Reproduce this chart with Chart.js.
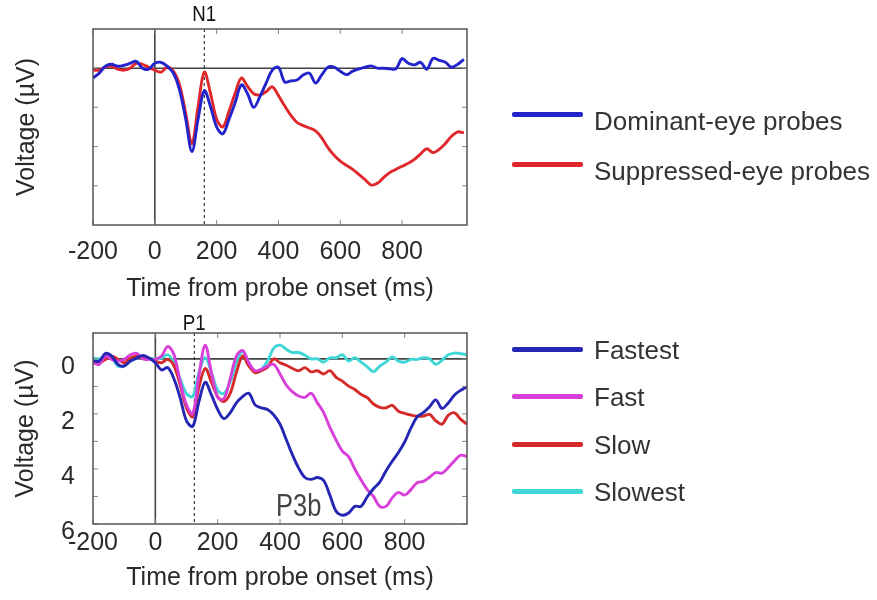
<!DOCTYPE html>
<html>
<head>
<meta charset="utf-8">
<title>ERP to probes</title>
<script src="https://cdn.jsdelivr.net/npm/chart.js@4.4.1/dist/chart.umd.min.js"></script>
<style>
  html, body { margin: 0; padding: 0; background: #fff; }
  #page { position: relative; width: 877px; height: 600px; overflow: hidden; }
  #page canvas { position: absolute; left: 0; }
  #topChart { top: 0; }
  #bottomChart { top: 300px; }
  .legend { position: absolute; left: 512px; margin: 0; padding: 0; list-style: none;
            font-family: 'Liberation Sans', Arial, sans-serif; font-size: 26px; color: #333; }
  .legend li { display: flex; align-items: center; white-space: nowrap; }
  .legend .swatch { display: inline-block; width: 71px; height: 5px; border-radius: 2px; }
  .legend .txt { margin-left: 11px; position: relative; }
  #topLegend { top: 89px; }
  #topLegend li { height: 50px; }
  #topLegend .txt { top: 7px; }
  #bottomLegend { top: 326px; }
  #bottomLegend li { height: 47.3px; }
  #bottomLegend .txt { top: 1px; }
</style>
</head>
<body>
<div id="page">
  <canvas id="topChart" width="877" height="310"></canvas>
  <canvas id="bottomChart" width="877" height="300"></canvas>
  <ul id="topLegend" class="legend"></ul>
  <ul id="bottomLegend" class="legend"></ul>
</div>
<script>
// time from probe onset (ms), one sample every 20 ms
const times = [-200, -180, -160, -140, -120, -100, -80, -60, -40, -20,
  0, 20, 40, 60, 80, 100, 120, 140, 160, 180,
  200, 220, 240, 260, 280, 300, 320, 340, 360, 380,
  400, 420, 440, 460, 480, 500, 520, 540, 560, 580,
  600, 620, 640, 660, 680, 700, 720, 740, 760, 780,
  800, 820, 840, 860, 880, 900, 920, 940, 960, 980, 1000];

// top panel (µV, positive is drawn downward)
const dominantEye = [0.5, 0.25, -0.1, -0.2, -0.1, -0.15, -0.25, -0.35, 0.0, 0.05,
  -0.25, -0.3, -0.1, 0.25, 1.1, 2.6, 4.25, 2.6, 1.15, 1.95,
  3.0, 3.35, 2.6, 1.75, 0.85, 1.3, 2.0, 1.45, 0.76, 0.1,
  -0.05, 0.7, 0.65, 0.6, 0.35, 0.25, 0.76, 0.34, -0.05, -0.05,
  0.15, 0.33, 0.15, 0.03, -0.05, -0.12, 0.0, 0.0, 0.03, 0.03,
  -0.49, -0.25, -0.17, -0.3, 0.05, -0.5, -0.4, -0.3, -0.05, -0.2, -0.45];
const suppressedEye = [0.1, 0.1, -0.05, -0.1, 0.05, 0.1, 0.0, -0.25, -0.2, -0.05,
  0.1, 0.2, -0.05, 0.15, 0.85, 2.3, 3.85, 1.95, 0.2, 1.27,
  2.6, 3.0, 2.2, 1.27, 0.5, 0.93, 1.3, 1.36, 1.2, 0.95,
  1.4, 1.92, 2.4, 2.77, 2.93, 3.05, 3.2, 3.55, 4.05, 4.44,
  4.74, 4.96, 5.16, 5.42, 5.68, 5.96, 5.87, 5.58, 5.33, 5.16,
  5.0, 4.85, 4.65, 4.37, 4.11, 4.31, 4.14, 3.84, 3.47, 3.25, 3.3];

// bottom panel, split by response speed
const fastest = [0.08, 0.08, -0.2, -0.1, 0.2, 0.26, 0.08, -0.03, -0.12, -0.03,
  0.14, 0.4, 0.32, 0.73, 1.43, 2.25, 2.45, 1.55, 0.85, 1.31,
  1.84, 2.17, 1.96, 1.6, 1.37, 1.25, 1.67, 1.78, 1.84, 2.04,
  2.37, 2.93, 3.49, 3.97, 4.31, 4.38, 4.31, 4.42, 4.95, 5.54,
  5.68, 5.6, 5.36, 5.36, 5.01, 4.72, 4.48, 4.07, 3.72, 3.4,
  3.02, 2.52, 2.11, 1.95, 1.74, 1.49, 1.8, 1.6, 1.31, 1.14, 1.02];
const fast = [0.14, 0.2, -0.1, 0.02, 0.08, 0.02, -0.15, -0.2, 0.0, 0.02,
  0.02, -0.1, -0.45, -0.15, 0.85, 1.67, 2.0, 0.6, -0.5, 0.5,
  1.4, 1.45, 0.73, -0.1, -0.3, 0.14, 0.43, 0.38, 0.26, 0.2,
  0.55, 0.95, 1.2, 1.35, 1.4, 1.25, 1.6, 1.95, 2.49, 2.95,
  3.35, 3.55, 4.0, 4.4, 4.75, 5.0, 5.36, 5.36, 5.05, 4.85,
  4.95, 4.75, 4.5, 4.45, 4.3, 4.13, 4.15, 3.95, 3.7, 3.5, 3.55];
const slow = [0.08, 0.14, 0.02, -0.1, 0.02, 0.14, -0.03, -0.1, -0.03, -0.03,
  0.08, 0.14, 0.02, 0.26, 0.96, 1.78, 2.1, 1.02, 0.35, 0.85,
  1.37, 1.55, 1.26, 0.5, -0.1, 0.26, 0.5, 0.43, 0.3, 0.0,
  0.14, 0.23, 0.35, 0.43, 0.32, 0.47, 0.43, 0.55, 0.43, 0.67,
  0.81, 0.99, 1.11, 1.29, 1.41, 1.64, 1.76, 1.78, 1.69, 1.9,
  1.98, 2.04, 2.08, 2.08, 2.02, 2.25, 2.37, 2.05, 1.96, 2.2, 2.37];
const slowest = [-0.03, 0.0, -0.05, -0.03, 0.26, 0.26, 0.08, -0.03, -0.1, -0.03,
  0.0, -0.03, -0.15, 0.14, 0.73, 1.26, 1.37, 0.49, -0.05, 0.5,
  1.14, 1.26, 0.85, 0.14, -0.27, 0.14, 0.49, 0.38, 0.08, -0.39,
  -0.5, -0.35, -0.23, -0.23, -0.13, 0.0, 0.0, 0.12, -0.04, -0.04,
  -0.15, 0.08, -0.04, 0.12, 0.29, 0.47, 0.26, 0.12, -0.07, 0.08,
  0.12, 0.02, 0.02, -0.04, 0.0, 0.2, 0.05, -0.15, -0.21, -0.19, -0.15];

const timeTicks = [-200, 0, 200, 400, 600, 800];
const topVoltTicks = [0, 2, 4, 6];
const bottomVoltTicks = [0, 1, 2, 3, 4, 5, 6];
const bottomVoltLabels = ['0', '', '2', '', '4', '', '6'];

// component markers
const n1Time = 160;
const p1Time = 125;
const p3bAt = { x: 460, y: 5.4 };

Chart.defaults.font.family = "'Liberation Sans', Arial, Helvetica, sans-serif";
Chart.defaults.color = '#2a2a2a';

function toPoints(values) {
  return times.map((t, i) => ({ x: t, y: values[i] }));
}

// draws a label squeezed sideways (the source uses a narrow face)
function narrowText(ctx, text, x, y, squeeze) {
  ctx.save();
  ctx.translate(x, y);
  ctx.scale(squeeze, 1);
  ctx.fillText(text, 0, 0);
  ctx.restore();
}

// zero lines, dashed marker, inward ticks, box and text labels
const panelMarks = {
  id: 'panelMarks',
  beforeDatasetsDraw(chart, args, o) {
    const { ctx, chartArea: a, scales: { x, y } } = chart;
    ctx.save();
    ctx.strokeStyle = '#444';
    ctx.lineWidth = 1.6;
    const y0 = y.getPixelForValue(0);
    const x0 = x.getPixelForValue(0);
    ctx.beginPath();
    ctx.moveTo(a.left, y0); ctx.lineTo(a.right, y0);
    ctx.moveTo(x0, a.top); ctx.lineTo(x0, a.bottom);
    ctx.stroke();
    const xd = x.getPixelForValue(o.markTime);
    ctx.setLineDash([3, 3]);
    ctx.strokeStyle = '#111';
    ctx.lineWidth = 1;
    ctx.beginPath();
    ctx.moveTo(xd, a.top); ctx.lineTo(xd, a.bottom);
    ctx.stroke();
    ctx.restore();
  },
  afterDatasetsDraw(chart, args, o) {
    const { ctx, chartArea: a, scales: { x, y } } = chart;
    ctx.save();
    ctx.strokeStyle = '#888';
    ctx.lineWidth = 1;
    ctx.beginPath();
    o.xTicks.forEach(v => {
      const px = x.getPixelForValue(v);
      ctx.moveTo(px, a.top); ctx.lineTo(px, a.top + 5);
      ctx.moveTo(px, a.bottom); ctx.lineTo(px, a.bottom - 5);
    });
    o.yTicks.forEach(v => {
      const py = y.getPixelForValue(v);
      ctx.moveTo(a.left, py); ctx.lineTo(a.left + 5, py);
      ctx.moveTo(a.right, py); ctx.lineTo(a.right - 5, py);
    });
    ctx.stroke();
    ctx.strokeStyle = '#555';
    ctx.lineWidth = 1.5;
    ctx.strokeRect(a.left, a.top, a.right - a.left, a.bottom - a.top);

    ctx.fillStyle = '#111';
    ctx.font = "22px 'Liberation Sans', sans-serif";
    ctx.textAlign = 'center';
    ctx.textBaseline = 'middle';
    narrowText(ctx, o.markText, x.getPixelForValue(o.markTime), a.top - o.markGap, 0.85);
    if (o.noteText) {
      ctx.fillStyle = '#444';
      ctx.font = "31px 'Liberation Sans', sans-serif";
      narrowText(ctx, o.noteText, x.getPixelForValue(o.noteX), y.getPixelForValue(o.noteY), 0.82);
    }
    ctx.restore();
  }
};

function makePanel(id, datasets, p) {
  return new Chart(document.getElementById(id), {
    type: 'line',
    data: { datasets },
    options: {
      responsive: false,
      animation: false,
      layout: { padding: { top: p.padTop, bottom: p.padBottom, left: 0, right: 410 } },
      plugins: {
        legend: { display: false },
        tooltip: { enabled: false },
        panelMarks: {
          xTicks: timeTicks, yTicks: p.yTicks,
          markTime: p.markTime, markText: p.markText, markGap: p.markGap,
          noteText: p.noteText, noteX: p.noteX, noteY: p.noteY
        }
      },
      scales: {
        x: {
          type: 'linear', min: -200, max: p.xMax,
          afterBuildTicks: s => { s.ticks = timeTicks.map(v => ({ value: v })); },
          afterFit: s => { s.height = p.xAxisHeight; },
          grid: { display: false, drawTicks: false },
          border: { display: false },
          ticks: { font: { size: 25 }, padding: p.xTickPad, autoSkip: false, maxRotation: 0,
                   callback: v => String(v) },
          title: { display: true, text: 'Time from probe onset (ms)', font: { size: 25 }, padding: 0 }
        },
        y: {
          type: 'linear', min: p.yMin, max: p.yMax, reverse: true,
          afterBuildTicks: s => { s.ticks = p.yTicks.map(v => ({ value: v })); },
          afterFit: s => { s.width = 93; },
          grid: { display: false, drawTicks: false },
          border: { display: false },
          ticks: { display: p.yLabels != null, font: { size: 25 }, padding: 18, labelOffset: 8,
                   callback: v => p.yLabels ? p.yLabels[p.yTicks.indexOf(v)] : '' },
          title: { display: true, text: 'Voltage (µV)', font: { size: 25 },
                   padding: { top: p.yTitlePad, bottom: 0 } }
        }
      }
    },
    plugins: [panelMarks]
  });
}

function line(label, values, color) {
  return { label, data: toPoints(values), borderColor: color, backgroundColor: color,
           borderWidth: 2.9, pointRadius: 0, tension: 0.35, fill: false };
}

const topChart = makePanel('topChart', [
  line('Dominant-eye probes', dominantEye, '#2323cc'),
  line('Suppressed-eye probes', suppressedEye, '#e0282c')
], {
  padTop: 29, padBottom: 6, xAxisHeight: 79, xTickPad: 12, yTitlePad: 12,
  xMax: 1010, yMin: -2, yMax: 8, yTicks: topVoltTicks, yLabels: null,
  markTime: n1Time, markText: 'N1', markGap: 14
});

const bottomChart = makePanel('bottomChart', [
  line('Fastest', fastest, '#2626b4'),
  line('Fast', fast, '#d83ed8'),
  line('Slow', slow, '#d42a2a'),
  line('Slowest', slowest, '#3ed6d6')
], {
  padTop: 28, padBottom: 7, xAxisHeight: 69, xTickPad: 4, yTitlePad: 11,
  xMax: 1000, yMin: -0.94, yMax: 6, yTicks: bottomVoltTicks, yLabels: bottomVoltLabels,
  markTime: p1Time, markText: 'P1', markGap: 9,
  noteText: 'P3b', noteX: p3bAt.x, noteY: p3bAt.y
});

function fillLegend(chart, listId) {
  const ul = document.getElementById(listId);
  chart.data.datasets.forEach(ds => {
    const li = document.createElement('li');
    const sw = document.createElement('span');
    sw.className = 'swatch';
    sw.style.background = ds.borderColor;
    const tx = document.createElement('span');
    tx.className = 'txt';
    tx.textContent = ds.label;
    li.append(sw, tx);
    ul.appendChild(li);
  });
}
fillLegend(topChart, 'topLegend');
fillLegend(bottomChart, 'bottomLegend');
</script>
</body>
</html>
